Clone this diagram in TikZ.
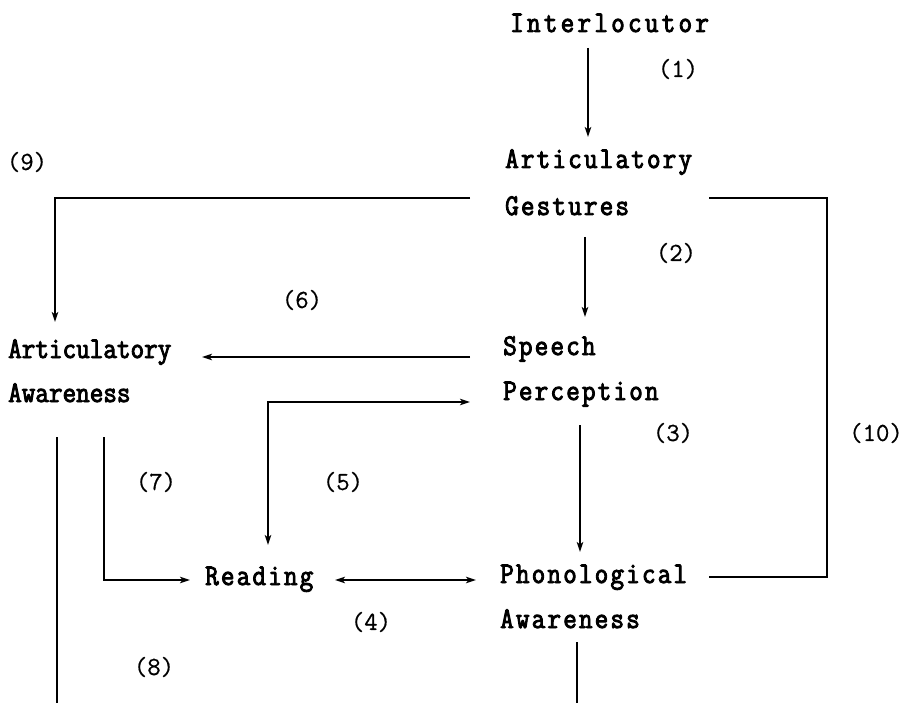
\documentclass[tikz,border=0pt]{standalone}
\usepackage{fontspec}
\newfontfamily\tfontA[FakeStretch=0.88,FakeBold=3]{Latin Modern Mono}
\newfontfamily\tfontB[FakeStretch=0.88,FakeBold=3,LetterSpace=7.2]{Latin Modern Mono}
\newfontfamily\tfontC[FakeStretch=0.88,FakeBold=3,LetterSpace=10.8]{Latin Modern Mono}
\newfontfamily\labfont[FakeBold=0.6]{Latin Modern Mono}
\usetikzlibrary{arrows.meta,calc}
\tikzset{
  term/.style={anchor=base west, inner sep=0pt, font=\tfontB\fontsize{30}{32}\selectfont},
  termnarrow/.style={term, font=\tfontA\fontsize{30}{32}\selectfont},
  termwide/.style={term, font=\tfontC\fontsize{30}{32}\selectfont},
  num/.style={anchor=center, inner sep=0pt, font=\labfont\fontsize{26}{28}\selectfont},
  conn/.style={line width=1.7pt},
  arr/.style={conn, -{Stealth[length=10pt,width=6.5pt,inset=2.5pt]}},
  darr/.style={conn, {Stealth[length=10pt,width=6.5pt,inset=2.5pt]}-{Stealth[length=10pt,width=6.5pt,inset=2.5pt]}}
}
\begin{document}
\begin{tikzpicture}[x=1pt,y=-1pt]
\useasboundingbox[fill=white] (0,0) rectangle (902,703);
% terms
\node[termwide] (inter)  at (510,32)  {Interlocutor};
\node[term] (artg1)  at (505,168) {Articulatory};
\node[term] (artg2)  at (505,215) {Gestures};
\node[term] (speech) at (503,355) {Speech};
\node[term] (percep) at (503,400) {Perception};
\node[term] (phon)   at (500,583) {Phonological};
\node[term] (phonaw) at (500,628) {Awareness};
\node[termnarrow] (arta1)  at (8,358)   {Articulatory};
\node[termnarrow] (arta2)  at (8,402)   {Awareness};
\node[term] (read)   at (205,585) {Reading};
% labels
\node[num] (l1)  at (678,69)  {(1)};
\node[num] (l2)  at (676,253) {(2)};
\node[num] (l3)  at (673,433) {(3)};
\node[num] (l4)  at (371,622) {(4)};
\node[num] (l5)  at (343,482) {(5)};
\node[num] (l6)  at (302,300) {(6)};
\node[num] (l7)  at (156,482) {(7)};
\node[num] (l8)  at (154,667) {(8)};
\node[num] (l9)  at (27,162)  {(9)};
\node[num] (l10) at (876,433) {(10)};
% free ends at the bottom edge
\coordinate (bl) at (57,703);
\coordinate (br) at (577,703);
% connectors
\draw[arr] ($(inter.base west)+(78,16)$) -- ($(artg1.base west)+(83,-31)$);
\draw[arr] ($(artg2.base west)+(80,22)$) -- ($(speech.base west)+(82,-38)$);
\draw[arr] ($(percep.base west)+(77,25)$) -- ($(phon.base west)+(80,-31)$);
\draw[darr] ($(read.base west)+(130,-5)$) -- ($(phon.base west)+(-24,-3)$);
\draw[darr] ($(percep.base west)+(-33,2)$) -| ($(read.base west)+(63,-40)$);
\draw[arr] ($(speech.base west)+(-33,2)$) -- ($(arta1.base west)+(194,-1)$);
\draw[arr] ($(arta2.base west)+(96,35)$) |- ($(read.base west)+(-15,-5)$);
\draw[conn] ($(arta2.base west)+(49,35)$) -- (bl);
\draw[conn] ($(phonaw.base west)+(77,14)$) -- (br);
\draw[arr] ($(artg2.base west)+(-35,-17)$) -| ($(arta1.base west)+(47,-36)$);
\draw[conn] ($(artg2.base west)+(204,-17)$) -- ++(118,0) |- ($(phon.base west)+(209,-6)$);
\end{tikzpicture}
\end{document}
